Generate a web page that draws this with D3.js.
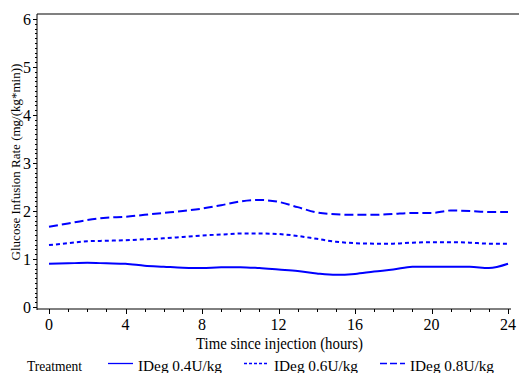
<!DOCTYPE html>
<html>
<head>
<meta charset="utf-8">
<script src="https://cdn.jsdelivr.net/npm/d3@7"></script>
<style>
  html, body { margin: 0; padding: 0; background: #fff; }
  svg { display: block; }
</style>
</head>
<body>
<svg id="chart" width="519" height="373" font-family="'Liberation Serif', 'DejaVu Serif', serif"></svg>
<script>
// Hours since injection (hourly readings)
const hours = d3.range(0, 25);

// Glucose infusion rate, mg/(kg*min), per treatment
const ideg04 = [0.90, 0.91, 0.92, 0.91, 0.90, 0.86, 0.84, 0.82, 0.81, 0.83, 0.83, 0.81, 0.78,
                0.75, 0.70, 0.67, 0.69, 0.74, 0.78, 0.84, 0.84, 0.84, 0.84, 0.81, 0.90];
const ideg06 = [1.29, 1.33, 1.37, 1.38, 1.39, 1.41, 1.43, 1.46, 1.49, 1.51, 1.53, 1.53, 1.52,
                1.48, 1.42, 1.36, 1.33, 1.32, 1.32, 1.34, 1.35, 1.35, 1.34, 1.32, 1.32];
const ideg08 = [1.67, 1.74, 1.81, 1.86, 1.88, 1.92, 1.96, 2.00, 2.05, 2.12, 2.20, 2.23, 2.19,
                2.08, 1.97, 1.93, 1.92, 1.92, 1.94, 1.96, 1.96, 2.01, 2.00, 1.98, 1.98];

const seriesNames = ["IDeg 0.4U/kg", "IDeg 0.6U/kg", "IDeg 0.8U/kg"];
const seriesDash = ["none", "4,3", "9,4"];
const legendDash = ["none", "3,2", "7,3"];

const xTicks = [0, 4, 8, 12, 16, 20, 24];
const yTicks = [0, 1, 2, 3, 4, 5, 6];

const svg = d3.select("#chart");

const x = d3.scaleLinear().domain([0, 24]).range([49, 508]);
const y = d3.scaleLinear().domain([0, 6]).range([307, 19]);

const axisLeftX = 37, axisBottomY = 309, topY = 14;

// frame: grey top rule
svg.append("line")
  .attr("x1", axisLeftX).attr("x2", 519)
  .attr("y1", topY).attr("y2", topY)
  .attr("stroke", "#808080").attr("stroke-width", 2);

// y axis with tenth-unit minor ticks
const yAxis = svg.append("g").attr("transform", `translate(${axisLeftX},0)`);
yAxis.append("line").attr("x1", 0).attr("x2", 0).attr("y1", topY).attr("y2", axisBottomY + 1)
  .attr("stroke", "#000");
yAxis.selectAll(".minor").data(d3.range(0, 60.5, 1).map(d => d / 10)).join("line")
  .attr("x1", -2).attr("x2", 0)
  .attr("y1", d => Math.round(y(d)) + 0.5).attr("y2", d => Math.round(y(d)) + 0.5)
  .attr("stroke", "#000");
yAxis.selectAll(".major").data(yTicks).join("line")
  .attr("x1", -4).attr("x2", 0)
  .attr("y1", d => Math.round(y(d)) + 0.5).attr("y2", d => Math.round(y(d)) + 0.5)
  .attr("stroke", "#000");
yAxis.selectAll("text").data(yTicks).join("text")
  .attr("x", -6).attr("y", d => y(d)).attr("dy", "0.35em")
  .attr("text-anchor", "end").attr("font-size", 16)
  .text(d => d);

// x axis with hourly minor ticks
const xAxis = svg.append("g").attr("transform", `translate(0,${axisBottomY})`);
xAxis.append("line").attr("x1", axisLeftX).attr("x2", 511).attr("y1", 0).attr("y2", 0)
  .attr("stroke", "#000");
xAxis.selectAll(".minor").data(d3.range(0, 25)).join("line")
  .attr("x1", d => Math.round(x(d)) + 0.5).attr("x2", d => Math.round(x(d)) + 0.5)
  .attr("y1", 0).attr("y2", 3)
  .attr("stroke", "#000");
xAxis.selectAll(".major").data(xTicks).join("line")
  .attr("x1", d => Math.round(x(d)) + 0.5).attr("x2", d => Math.round(x(d)) + 0.5)
  .attr("y1", 0).attr("y2", 5)
  .attr("stroke", "#000");
xAxis.selectAll("text").data(xTicks).join("text")
  .attr("x", d => x(d)).attr("y", 21)
  .attr("text-anchor", "middle").attr("font-size", 16)
  .text(d => d);

// axis titles
svg.append("text")
  .attr("x", 196).attr("y", 349)
  .attr("font-size", 16)
  .attr("textLength", 167).attr("lengthAdjust", "spacingAndGlyphs")
  .text("Time since injection (hours)");
svg.append("text")
  .attr("transform", `translate(20,162) rotate(-90)`)
  .attr("text-anchor", "middle").attr("font-size", 13)
  .text("Glucose Infusion Rate (mg/(kg*min))");

// curves
const line = d3.line()
  .x((d, i) => x(hours[i]))
  .y(d => y(d))
  .curve(d3.curveMonotoneX);

[ideg04, ideg06, ideg08].forEach((vals, k) => {
  svg.append("path")
    .attr("d", line(vals))
    .attr("fill", "none")
    .attr("stroke", "#0000ff")
    .attr("stroke-width", 2)
    .attr("stroke-dasharray", seriesDash[k]);
});

// legend
const legendY = 363.5, legendBase = 370.5;
svg.append("text").attr("x", 27).attr("y", legendBase).attr("font-size", 15)
  .attr("textLength", 55).attr("lengthAdjust", "spacingAndGlyphs")
  .text("Treatment");
const legendX = [108, 244, 380];
seriesNames.forEach((name, k) => {
  svg.append("line")
    .attr("x1", legendX[k]).attr("x2", legendX[k] + 25)
    .attr("y1", legendY).attr("y2", legendY)
    .attr("stroke", "#0000ff").attr("stroke-width", 1.3)
    .attr("stroke-dasharray", legendDash[k]);
  svg.append("text")
    .attr("x", legendX[k] + 30).attr("y", legendBase)
    .attr("font-size", 15)
    .attr("textLength", 84).attr("lengthAdjust", "spacingAndGlyphs")
    .text(name);
});
</script>
</body>
</html>
